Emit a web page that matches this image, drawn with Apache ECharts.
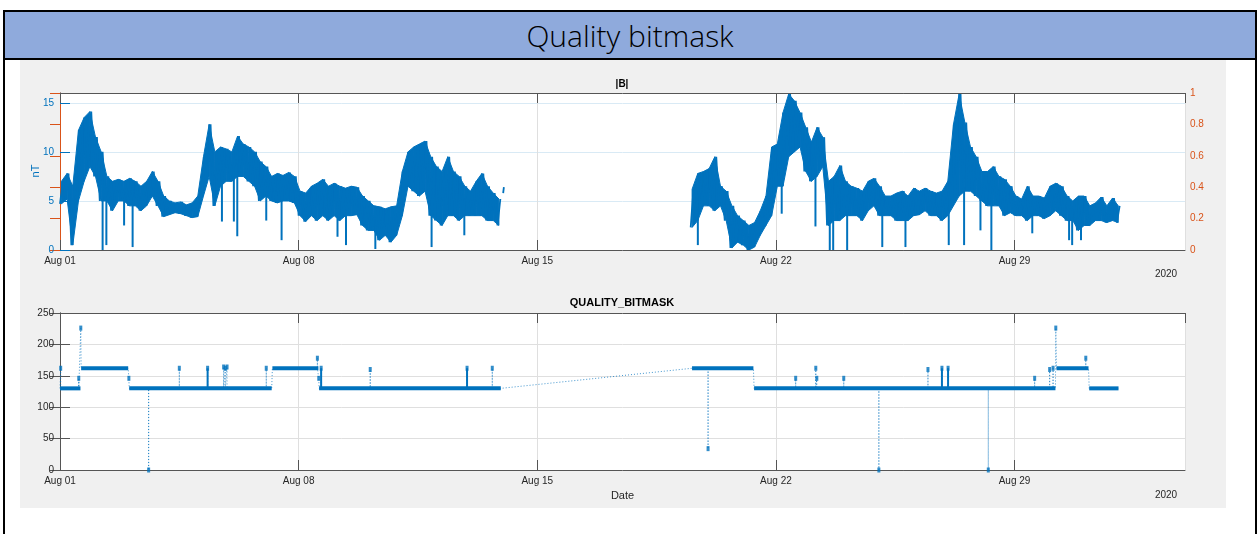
<!DOCTYPE html>
<html>
<head>
<meta charset="utf-8">
<title>Quality bitmask</title>
<script src="https://cdn.jsdelivr.net/npm/echarts@6/dist/echarts.min.js"></script>
<style>
  html, body { margin: 0; padding: 0; background: #fff; }
  body { width: 1259px; height: 534px; position: relative; overflow: hidden; }
  #frame { position: absolute; left: 3px; top: 10px; width: 1254px; height: 600px; border: 2px solid #000; box-sizing: border-box; }
  #header { position: absolute; left: 3px; top: 10px; width: 1254px; height: 50px; background: #8FAADC; border: 2px solid #000; box-sizing: border-box;
            display: flex; align-items: center; justify-content: center; font-family: 'Open Sans', sans-serif; font-weight: 300; font-size: 30px; color: #000; }
  #figure { position: absolute; left: 20px; top: 60px; width: 1206px; height: 448px; background: #F0F0F0; }
  .plotbg { position: absolute; left: 60px; width: 1125px; height: 157px; background: #fff; }
  #chart { position: absolute; left: 0; top: 0; width: 1259px; height: 534px; }
</style>
</head>
<body>
<div id="frame"></div>
<div id="header">Quality bitmask</div>
<div id="figure"></div>
<div class="plotbg" style="top:93px"></div>
<div class="plotbg" style="top:313px"></div>
<div id="chart"></div>
<script>
// x values are days since Aug 01 2020 00:00
const dateTicks = ['Aug 01', 'Aug 08', 'Aug 15', 'Aug 22', 'Aug 29'];
const yearLabel = '2020';

// |B| in nT: lower / upper edge of the trace per 4-hour bin
const binStep = 1 / 6;
const bStart1 = 0;
const bLow1 = [4.7, 5.2, 0.5, 5.0, 7.0, 8.5, 7.5, 5.0, 5.0, 4.0,
  5.0, 5.0, 4.5, 4.5, 4.0, 4.5, 5.5, 4.5, 3.4, 3.6,
  3.8, 3.7, 3.5, 3.3, 3.4, 5.5, 7.5, 4.5, 6.5, 7.0,
  7.0, 7.5, 7.5, 7.0, 6.5, 5.0, 5.5, 5.0, 4.8, 5.0,
  5.0, 4.8, 3.5, 2.9, 3.5, 3.0, 3.5, 3.0, 3.5, 3.0,
  3.5, 3.5, 3.6, 2.5, 2.0, 2.0, 1.0, 1.5, 0.8, 1.5,
  3.5, 6.5, 6.0, 5.5, 6.0, 3.5, 3.0, 2.5, 3.5, 3.5,
  3.0, 3.5, 3.5, 3.5, 3.5, 3.0, 3.0, 2.5];
const bHigh1 = [7.0, 7.8, 6.5, 12.2, 13.5, 14.1, 11.5, 10.0, 7.5, 7.0,
  7.2, 7.0, 7.3, 7.0, 6.5, 7.0, 8.0, 7.0, 5.5, 5.0,
  4.8, 4.9, 4.6, 4.8, 5.5, 9.5, 12.8, 10.0, 10.5, 10.3,
  10.0, 11.6, 10.8, 10.5, 10.0, 9.0, 8.5, 7.5, 7.8, 7.6,
  7.9, 7.5, 6.0, 5.8, 6.5, 6.8, 7.2, 6.5, 6.8, 6.5,
  6.3, 6.5, 6.4, 5.5, 5.0, 4.5, 4.4, 4.2, 4.4, 4.5,
  8.0, 10.0, 10.5, 10.8, 11.1, 9.5, 8.5, 8.0, 9.5, 8.0,
  7.5, 6.5, 6.0, 7.0, 7.8, 6.5, 5.8, 5.2];
const bTailDay = 13.0;
const bTail = [5.8, 6.4];

const bStart2 = 18.5;
const bLow2 = [2.3, 3.0, 4.5, 4.5, 4.0, 4.5, 3.0, 0.2, 0.8, 0.5,
  0.0, 0.3, 1.5, 2.5, 3.5, 6.5, 6.5, 9.5, 10.0, 10.5,
  8.0, 7.0, 7.5, 8.5, 2.5, 3.0, 3.0, 3.5, 3.5, 3.5,
  3.0, 4.0, 4.5, 3.5, 3.5, 3.5, 3.0, 3.0, 3.0, 3.5,
  3.6, 4.0, 3.5, 3.5, 3.0, 3.5, 4.5, 5.5, 6.0, 6.0,
  5.5, 5.0, 4.5, 4.5, 4.5, 3.5, 3.8, 3.5, 3.5, 3.0,
  3.5, 3.5, 3.2, 3.5, 4.0, 3.5, 3.0, 3.0, 2.0, 2.5,
  2.5, 3.0, 3.0, 2.8, 3.0, 2.8];
const bHigh2 = [6.2, 7.8, 8.0, 8.3, 9.5, 6.5, 6.0, 4.5, 3.5, 3.0,
  2.5, 2.8, 4.0, 5.5, 10.5, 10.8, 14.0, 15.9, 15.2, 14.0,
  12.5, 11.0, 12.5, 11.5, 7.0, 7.5, 8.6, 7.0, 6.5, 6.3,
  6.0, 7.0, 7.3, 6.5, 5.5, 5.5, 5.8, 6.0, 5.5, 6.3,
  6.0, 6.3, 6.0, 5.8, 6.0, 7.0, 12.8, 15.9, 13.0, 10.5,
  9.5, 8.0, 8.0, 8.5, 7.5, 7.2, 6.5, 5.5, 5.2, 6.5,
  5.5, 5.5, 5.3, 6.5, 6.8, 6.5, 5.5, 5.0, 5.5, 5.5,
  4.5, 4.8, 5.4, 4.5, 5.3, 4.5];

// short drops of |B| below the trace
const bDipDay = [1.25, 1.36, 1.88, 2.13, 4.75, 5.1, 5.2, 6.05, 6.5, 8.14, 8.39, 9.25, 10.9, 11.86,
  18.71, 21.17, 22.16, 22.58, 22.68, 23.09, 24.12, 24.8, 26.07, 26.52, 27.0, 27.32, 28.52, 29.6, 29.69, 29.95];
const bDipValue = [0.0, 0.5, 2.5, 0.3, 2.9, 2.9, 1.4, 3.0, 1.0, 1.35, 0.5, 0.1, 0.3, 1.5,
  0.5, 3.7, 2.4, 0.0, 0.0, 0.0, 0.3, 0.3, 0.5, 0.5, 2.0, 0.0, 1.7, 1.0, 0.5, 1.0];

// QUALITY_BITMASK: constant runs and short excursions
const qRunStart = [0, 0.62, 2.03, 6.23, 7.6, 18.54, 20.36, 29.23, 30.19];
const qRunEnd = [0.6, 2.0, 6.21, 7.58, 12.93, 20.34, 29.2, 30.17, 31.05];
const qRunValue = [130, 162, 130, 162, 130, 162, 130, 162, 130];
const qSpikeDay = [0.02, 0.55, 0.61, 2.02, 2.6, 3.5, 4.33, 4.8, 4.85, 4.9, 6.05, 7.55, 7.59, 7.66, 9.1,
  11.94, 12.68, 19.01, 21.58, 22.17, 22.2, 22.99, 24.02, 25.46, 25.87, 26.05, 27.23, 28.59, 29.03,
  29.13, 29.21, 30.09];
const qSpikeValue = [162, 146, 226, 146, 0, 162, 162, 164, 162, 164, 162, 178, 146, 162, 160,
  162, 162, 34, 146, 162, 146, 146, 0, 160, 162, 162, 0, 146, 160,
  162, 226, 178];
const qSpikeDense = [0, 0, 0, 0, 0, 0, 1, 0, 0, 0, 0, 0, 0, 1, 0,
  1, 0, 0, 0, 0, 0, 0, 0, 0, 1, 1, 0, 0, 0,
  0, 0, 0];

const BLUE = '#0072BD';
const ORANGE = '#D95319';
const AXIS = '#555555';
const TEXT = '#262626';

function zigzag(start, lows, highs) {
  const pts = [];
  lows.forEach((lo, i) => {
    pts.push([start + i * binStep, lo]);
    pts.push([start + (i + 0.5) * binStep, highs[i]]);
  });
  return pts;
}

// one quad per pair of neighbouring bins: [tA, loA, hiA, tB, loB, hiB]
function bandQuads(start, lows, highs) {
  const quads = [];
  for (let i = 0; i + 1 < lows.length; i++) {
    quads.push([start + (i + 0.25) * binStep, lows[i], highs[i],
      start + (i + 1.25) * binStep, lows[i + 1], highs[i + 1]]);
  }
  return quads;
}

function bandLowAt(d) {
  const segs = [[bStart1, bLow1], [bStart2, bLow2]];
  for (const [s, lows] of segs) {
    const i = Math.floor((d - s) / binStep);
    if (i >= 0 && i < lows.length) return lows[i];
  }
  return 4;
}

const bSeg1 = zigzag(bStart1, bLow1, bHigh1);
const bSeg2 = zigzag(bStart2, bLow2, bHigh2);
const bTailSeg = [[bTailDay, bTail[0]], [bTailDay + 0.02, bTail[1]]];
const bBand = bandQuads(bStart1, bLow1, bHigh1).concat(bandQuads(bStart2, bLow2, bHigh2));
const bDips = bDipDay.map((d, i) => [d, bDipValue[i], bandLowAt(d) + 0.5]);

// bitmask path in time order
const spikes = qSpikeDay.map((d, i) => ({ d, v: qSpikeValue[i], dense: qSpikeDense[i] }));
const qPath = [];
const denseSegs = [];
qRunStart.forEach((s, r) => {
  const e = qRunEnd[r], v = qRunValue[r];
  qPath.push([s, v]);
  spikes.filter(p => p.d > s && p.d < e).forEach(p => {
    qPath.push([p.d, v], [p.d, p.v], [p.d, v]);
    if (p.dense) denseSegs.push([p.d, v, p.v]);
  });
  qPath.push([e, v]);
  const next = r + 1 < qRunStart.length ? qRunStart[r + 1] : Infinity;
  spikes.filter(p => p.d >= e && p.d < next).forEach(p => qPath.push([p.d, p.v]));
});
const qRuns = qRunStart.map((s, r) => [s, qRunEnd[r], qRunValue[r]]);
const qPeaks = spikes.map(p => [p.d, p.v]);

const labelFont = { fontFamily: 'Liberation Sans, Arial, sans-serif', fontSize: 10 };

function dayLabel(v) {
  return v % 7 === 0 ? (dateTicks[v / 7] || '') : '';
}

function xAxes(gridIndex, name) {
  return [{
    type: 'value', gridIndex, min: 0, max: 33, interval: 7, position: 'bottom',
    name, nameLocation: 'middle', nameGap: 20,
    nameTextStyle: { color: TEXT, fontSize: 11, fontFamily: labelFont.fontFamily },
    axisLine: { onZero: false, lineStyle: { color: AXIS, width: 1 } },
    axisTick: { inside: true, length: 10, lineStyle: { color: AXIS } },
    axisLabel: Object.assign({ color: TEXT, margin: 6, formatter: dayLabel, showMaxLabel: false }, labelFont),
    splitLine: { show: true, lineStyle: { color: '#DFDFDF', width: 1 } }
  }, {
    type: 'value', gridIndex, min: 0, max: 33, interval: 7, position: 'top',
    axisLine: { onZero: false, lineStyle: { color: AXIS, width: 1 } },
    axisTick: { inside: true, length: 10, lineStyle: { color: AXIS } },
    axisLabel: { show: false }, splitLine: { show: false }
  }];
}

function lineItem(stroke, width) {
  return (params, api) => {
    const a = api.coord([api.value(0), api.value(1)]);
    const b = api.coord([api.value(2), api.value(3)]);
    return { type: 'line', shape: { x1: a[0], y1: a[1], x2: b[0], y2: b[1] },
      style: { stroke, lineWidth: width } };
  };
}

const option = {
  animation: false,
  grid: [
    { left: 60, top: 93, width: 1125, height: 157 },
    { left: 60, top: 313, width: 1125, height: 157 }
  ],
  xAxis: [...xAxes(0, ''), ...xAxes(1, 'Date')],
  yAxis: [
    { type: 'value', gridIndex: 0, min: 0, max: 16, interval: 5, position: 'left',
      axisLine: { show: true, lineStyle: { color: BLUE } },
      axisTick: { show: true, inside: true, length: 10, lineStyle: { color: BLUE } },
      axisLabel: Object.assign({ color: BLUE, margin: 6, showMaxLabel: false }, labelFont),
      splitLine: { show: true, lineStyle: { color: '#D9EAF5' } } },
    { type: 'value', gridIndex: 0, min: 0, max: 1, interval: 0.2, position: 'right',
      axisLine: { show: true, lineStyle: { color: ORANGE } },
      axisTick: { show: true, inside: true, length: 10, lineStyle: { color: ORANGE } },
      axisLabel: Object.assign({ color: ORANGE, margin: 5 }, labelFont),
      splitLine: { show: false } },
    { type: 'value', gridIndex: 1, min: 0, max: 250, interval: 50, position: 'left',
      axisLine: { show: true, lineStyle: { color: AXIS } },
      axisTick: { show: true, inside: true, length: 10, lineStyle: { color: AXIS } },
      axisLabel: Object.assign({ color: TEXT, margin: 6 }, labelFont),
      splitLine: { show: true, lineStyle: { color: '#DFDFDF' } } },
    { type: 'value', gridIndex: 1, min: 0, max: 250, interval: 50, position: 'right',
      axisLine: { show: true, lineStyle: { color: AXIS } },
      axisTick: { show: true, inside: true, length: 10, lineStyle: { color: AXIS } },
      axisLabel: { show: false }, splitLine: { show: false } }
  ],
  graphic: [
    { type: 'text', x: 622, y: 84, style: { text: '|B|', textAlign: 'center', textVerticalAlign: 'middle', font: 'bold 10px Liberation Sans, Arial', fill: '#000' } },
    { type: 'text', x: 622, y: 303, style: { text: 'QUALITY_BITMASK', textAlign: 'center', textVerticalAlign: 'middle', font: 'bold 11px Liberation Sans, Arial', fill: '#000' } },
    { type: 'text', x: 36, y: 171, rotation: Math.PI / 2, style: { text: 'nT', textAlign: 'center', textVerticalAlign: 'middle', font: '11px Liberation Sans, Arial', fill: BLUE } },
    { type: 'text', x: 1166, y: 274, style: { text: yearLabel, textAlign: 'center', textVerticalAlign: 'middle', font: '10px Liberation Sans, Arial', fill: TEXT } },
    { type: 'text', x: 1166, y: 495, style: { text: yearLabel, textAlign: 'center', textVerticalAlign: 'middle', font: '10px Liberation Sans, Arial', fill: TEXT } }
  ],
  series: [
    { type: 'custom', xAxisIndex: 0, yAxisIndex: 0, data: bBand, clip: true, z: 3,
      renderItem: (params, api) => {
        const p1 = api.coord([api.value(0), api.value(1)]);
        const p2 = api.coord([api.value(3), api.value(4)]);
        const p3 = api.coord([api.value(3), api.value(5)]);
        const p4 = api.coord([api.value(0), api.value(2)]);
        return { type: 'polygon', shape: { points: [p1, p2, p3, p4] },
          style: { fill: BLUE, stroke: BLUE, lineWidth: 1 } };
      } },
    ...[bSeg1, bSeg2, bTailSeg].map(seg => ({
      type: 'line', xAxisIndex: 0, yAxisIndex: 0, data: seg, showSymbol: false,
      lineStyle: { color: BLUE, width: 1.8 }, z: 3
    })),
    { type: 'custom', xAxisIndex: 0, yAxisIndex: 0, data: bDips.map(d => [d[0], d[1], d[0], d[2]]),
      clip: true, z: 3, renderItem: lineItem(BLUE, 2) },
    { type: 'line', xAxisIndex: 2, yAxisIndex: 2, data: qPath, showSymbol: false,
      lineStyle: { color: BLUE, width: 1, type: [1, 2], opacity: 0.75 }, z: 2 },
    { type: 'custom', xAxisIndex: 2, yAxisIndex: 2, data: qRuns.map(r => [r[0], r[2], r[1], r[2]]),
      clip: true, z: 3, renderItem: lineItem(BLUE, 4) },
    { type: 'custom', xAxisIndex: 2, yAxisIndex: 2, data: denseSegs.map(s => [s[0], s[1], s[0], s[2]]),
      clip: true, z: 3, renderItem: lineItem(BLUE, 2) },
    { type: 'scatter', xAxisIndex: 2, yAxisIndex: 2, data: qPeaks, symbol: 'rect', symbolSize: [3, 5],
      itemStyle: { color: BLUE }, z: 4 }
  ]
};

const chart = echarts.init(document.getElementById('chart'));
chart.setOption(option);
</script>
</body>
</html>
